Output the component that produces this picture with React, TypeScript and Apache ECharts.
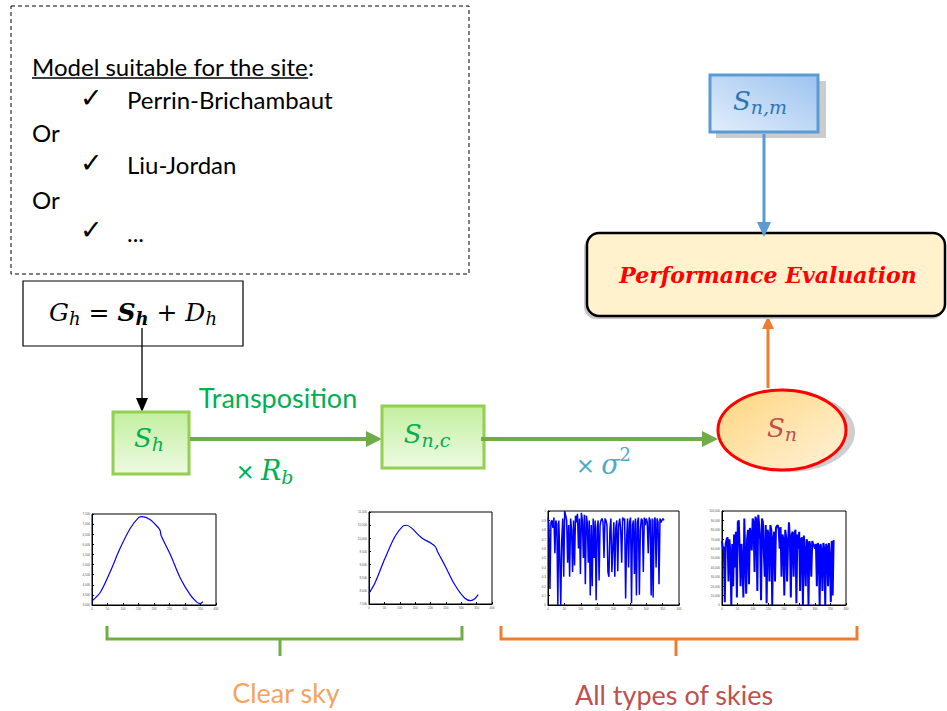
import React, { useEffect, useRef } from "react";
import * as echarts from "echarts";

// ---------- data ----------
const modelTitle = "Model suitable for the site";
const modelItems = ["Perrin-Brichambaut", "Liu-Jordan", "..."];
const orWord = "Or";
const bracketLabels = ["Clear sky", "All types of skies"];

// clear-sky horizontal irradiation (plot 1)
const clearHDays = [0, 27, 59, 91, 124, 151, 161, 188, 215, 220, 223, 253, 285, 317, 339, 349, 358];
const clearHVals = [3200, 3630, 4655, 5813, 6805, 7335, 7370, 7220, 6805, 6673, 6440, 5480, 4325, 3500, 3130, 3070, 3170];
// clear-sky transposed irradiation (plot 2)
const clearTDays = [0, 19, 52, 84, 111, 122, 138, 171, 203, 216, 223, 246, 279, 311, 331, 344, 355];
const clearTVals = [7915, 8293, 9237, 10056, 10471, 10496, 10396, 10018, 9804, 9678, 9490, 8986, 8230, 7727, 7626, 7700, 7853];
// daily clearness index (plot 3), one value every 3 days
const sampleStep = 3;
const clearnessVals = [
  0.93, 0.85, 0.17, 0.88, 0.9, 0.82, 0.93, 0.55, 0.9, 0.86, 0.0, 0.9, 0.5, 0.0, 0.7, 0.92, 0.3, 1.0, 0.95, 0.9,
  0.45, 0.85, 0.3, 0.92, 0.8, 0.35, 0.9, 0.42, 0.95, 0.88, 0.97, 0.6, 0.92, 0.33, 0.98, 0.9, 0.5, 0.96, 0.22, 0.95,
  0.88, 0.45, 0.9, 0.1, 0.85, 0.2, 0.92, 0.5, 0.9, 0.05, 0.82, 0.9, 0.26, 0.85, 0.9, 0.92, 0.88, 0.5, 0.92, 0.9,
  0.85, 0.35, 0.3, 0.8, 0.92, 0.35, 0.6, 0.88, 0.3, 0.82, 0.9, 0.36, 0.85, 0.92, 0.8, 0.45, 0.93, 0.9, 0.92, 0.07,
  0.7, 0.92, 0.4, 0.88, 0.93, 0.02, 0.85, 0.9, 0.33, 0.92, 0.1, 0.88, 0.93, 0.11, 0.8, 0.92, 0.9, 0.35, 0.93, 0.85,
  0.92, 0.88, 0.55, 0.93, 0.9, 0.1, 0.92, 0.08, 0.9, 0.93, 0.4, 0.92, 0.88, 0.22, 0.92, 0.88, 0.9, 0.92, 0.9,
];
// all-sky transposed irradiation (plot 4), one value every 3 days
const allSkyVals = [
  68000, 60000, 62000, 3000, 65000, 70000, 72000, 25000, 70000, 55000, 0, 65000, 20000, 75000, 40000, 78000, 8000,
  88000, 90000, 60000, 20000, 65000, 45000, 8000, 92000, 50000, 12000, 70000, 80000, 22000, 82000, 75000, 58000,
  92000, 88000, 35000, 94000, 90000, 15000, 96000, 85000, 70000, 5000, 92000, 88000, 55000, 30000, 85000, 2000,
  80000, 75000, 25000, 85000, 80000, 0, 70000, 78000, 25000, 82000, 84000, 85000, 80000, 60000, 83000, 30000, 75000,
  70000, 10000, 80000, 72000, 25000, 65000, 88000, 70000, 8000, 75000, 78000, 30000, 76000, 80000, 2000, 75000,
  60000, 78000, 15000, 70000, 72000, 0, 74000, 55000, 20000, 70000, 65000, 0, 68000, 62000, 30000, 68000, 65000,
  63000, 60000, 65000, 20000, 66000, 62000, 0, 65000, 58000, 15000, 66000, 60000, 0, 65000, 62000, 20000, 66000,
  50000, 3000, 68000, 10000, 69000,
];

// axis ranges of the four small plots
const yMins = [3000, 7500, 0, 0];
const yMaxs = [7500, 11000, 1, 100000];
const yIntervals = [500, 500, 0.1, 10000];
const xMin = 0;
const xMax = 400;
const xInterval = 50;

// ---------- helpers ----------
const MATH = '"DejaVu Serif"';
const SANS = "Lato";

let measureCtx: CanvasRenderingContext2D | null = null;
function measure(text: string, font: string) {
  if (!measureCtx) measureCtx = document.createElement("canvas").getContext("2d");
  measureCtx!.font = font;
  return measureCtx!.measureText(text).width;
}

type Part = { t: string; s: number; dy?: number; it?: boolean; b?: boolean; fam?: string };
function partFont(p: Part) {
  return `${p.it ? "italic " : ""}${p.b ? "bold " : ""}${p.s}px ${p.fam || MATH}`;
}
function mathText(cx: number, cy: number, parts: Part[], fill: string) {
  const widths = parts.map((p) => measure(p.t, partFont(p)));
  const total = widths.reduce((a, b) => a + b, 0);
  let x = cx - total / 2;
  return parts.map((p, i) => {
    const el = {
      type: "text",
      x,
      y: cy + (p.dy || 0),
      style: { text: p.t, font: partFont(p), fill, align: "left", verticalAlign: "middle" },
    };
    x += widths[i];
    return el;
  });
}

function arrow(x1: number, y1: number, x2: number, y2: number, color: string, lw: number, hl: number, hw: number) {
  const dx = x2 - x1;
  const dy = y2 - y1;
  const len = Math.sqrt(dx * dx + dy * dy);
  const ux = dx / len;
  const uy = dy / len;
  const bx = x2 - ux * hl;
  const by = y2 - uy * hl;
  const px = -uy * (hw / 2);
  const py = ux * (hw / 2);
  return [
    { type: "line", shape: { x1, y1, x2: bx, y2: by }, style: { stroke: color, lineWidth: lw } },
    {
      type: "polygon",
      shape: { points: [[x2, y2], [bx + px, by + py], [bx - px, by - py]] },
      style: { fill: color },
    },
  ];
}

function text(x: number, y: number, t: string, font: string, fill: string, align = "left") {
  return { type: "text", x, y, style: { text: t, font, fill, align, verticalAlign: "middle" } };
}

export default function App() {
  const ref = useRef<HTMLDivElement>(null);

  useEffect(() => {
    if (!ref.current) return;
    const chart = echarts.init(ref.current, null, { renderer: "svg" });

    const grids = [
      { left: 92, top: 514, width: 124, height: 91 },
      { left: 369, top: 512, width: 123, height: 92 },
      { left: 548, top: 511, width: 131, height: 94 },
      { left: 722, top: 511, width: 124, height: 94 },
    ];

    const greenFill = new echarts.graphic.LinearGradient(0, 0, 0, 1, [
      { offset: 0, color: "#c3efa0" },
      { offset: 1, color: "#eefae3" },
    ]);
    const greenFill2 = new echarts.graphic.LinearGradient(0, 0, 0, 1, [
      { offset: 0, color: "#c3efa0" },
      { offset: 1, color: "#eefae3" },
    ]);
    const blueFill = new echarts.graphic.LinearGradient(0, 1, 1, 0, [
      { offset: 0, color: "#e3eefc" },
      { offset: 1, color: "#9cc3ef" },
    ]);
    const ellFill = new echarts.graphic.LinearGradient(0, 0, 1, 1, [
      { offset: 0, color: "#ffd57f" },
      { offset: 1, color: "#fff3da" },
    ]);

    const elements: any[] = [];
    const bodyFont = `24px ${SANS}`;

    // dashed model box
    elements.push({
      type: "rect",
      shape: { x: 11, y: 6, width: 458, height: 268 },
      style: { fill: "none", stroke: "#000", lineWidth: 1, lineDash: [4, 3] },
    });
    elements.push(text(32, 66, modelTitle, bodyFont, "#000"));
    const titleW = measure(modelTitle, bodyFont);
    elements.push({
      type: "line",
      shape: { x1: 32, y1: 78, x2: 32 + titleW, y2: 78 },
      style: { stroke: "#000", lineWidth: 1.4 },
    });
    elements.push(text(32 + titleW, 66, ":", bodyFont, "#000"));
    const itemYs = [99, 164, 232];
    const checkYs = [97, 162, 229];
    modelItems.forEach((it, i) => {
      elements.push(text(80, checkYs[i], "✓", `27px "DejaVu Sans"`, "#000"));
      elements.push(text(127, itemYs[i], it, bodyFont, "#000"));
    });
    elements.push(text(32, 132, orWord, bodyFont, "#000"));
    elements.push(text(32, 199, orWord, bodyFont, "#000"));

    // G_h box
    elements.push({
      type: "rect",
      shape: { x: 23, y: 281, width: 220, height: 65 },
      style: { fill: "#fff", stroke: "#000", lineWidth: 1.2 },
    });
    elements.push(
      ...mathText(
        133,
        312,
        [
          { t: "G", s: 25, it: true },
          { t: "h", s: 18, it: true, dy: 6 },
          { t: " = ", s: 25 },
          { t: "S", s: 25, it: true, b: true },
          { t: "h", s: 18, it: true, b: true, dy: 6 },
          { t: " + ", s: 25 },
          { t: "D", s: 25, it: true },
          { t: "h", s: 18, it: true, dy: 6 },
        ],
        "#000"
      )
    );
    elements.push(...arrow(142, 328, 142, 412, "#000", 1.3, 14, 12));

    // S_h box
    elements.push({
      type: "rect",
      shape: { x: 113, y: 412, width: 76, height: 62 },
      style: { fill: greenFill, stroke: "#92d050", lineWidth: 3 },
    });
    elements.push(
      ...mathText(149, 438, [
        { t: "S", s: 26, it: true },
        { t: "h", s: 19, it: true, dy: 6 },
      ], "#00b050")
    );

    // transposition arrow
    elements.push(...arrow(190, 439, 382, 439, "#70ad47", 4, 16, 16));
    elements.push(text(278, 397, "Transposition", `27px ${SANS}`, "#00b050", "center"));
    elements.push(
      ...mathText(265, 470, [
        { t: "× ", s: 29, fam: SANS },
        { t: "R", s: 27, it: true },
        { t: "b", s: 19, it: true, dy: 7 },
      ], "#00b050")
    );

    // S_n,c box
    elements.push({
      type: "rect",
      shape: { x: 382, y: 406, width: 102, height: 62 },
      style: { fill: greenFill2, stroke: "#92d050", lineWidth: 3 },
    });
    elements.push(
      ...mathText(427, 434, [
        { t: "S", s: 26, it: true },
        { t: "n,c", s: 19, it: true, dy: 6 },
      ], "#00b050")
    );

    // sigma arrow
    elements.push(...arrow(481, 439, 718, 439, "#70ad47", 4, 16, 16));
    elements.push(
      ...mathText(604, 464, [
        { t: "× ", s: 29, fam: SANS },
        { t: "σ", s: 27, it: true },
        { t: "2", s: 18, dy: -10 },
      ], "#4bacc6")
    );

    // S_n ellipse with shadow
    elements.push({
      type: "ellipse",
      shape: { cx: 789, cy: 432, rx: 66, ry: 40 },
      style: { fill: "#cfcfcf" },
    });
    elements.push({
      type: "ellipse",
      shape: { cx: 782, cy: 430, rx: 64, ry: 40 },
      style: { fill: ellFill, stroke: "#ff0000", lineWidth: 3 },
    });
    elements.push(
      ...mathText(782, 428, [
        { t: "S", s: 26, it: true },
        { t: "n", s: 19, it: true, dy: 6 },
      ], "#c0504d")
    );

    // orange arrow up
    elements.push(...arrow(768, 388, 768, 316, "#ed7d31", 3, 13, 12));

    // performance evaluation box
    elements.push({
      type: "rect",
      shape: { x: 584, y: 236, width: 360, height: 83, r: 12 },
      style: { fill: "#c8c8c8" },
    });
    elements.push({
      type: "rect",
      shape: { x: 587, y: 233, width: 358, height: 83, r: 12 },
      style: { fill: "#fff2cc", stroke: "#000", lineWidth: 2.5 },
    });
    elements.push(
      text(768, 275, "Performance Evaluation", `italic bold 22px ${MATH}`, "#ff0000", "center")
    );

    // S_n,m box with shadow
    elements.push({
      type: "rect",
      shape: { x: 716, y: 81, width: 110, height: 57 },
      style: { fill: "#cccccc" },
    });
    elements.push({
      type: "rect",
      shape: { x: 710, y: 75, width: 108, height: 57 },
      style: { fill: blueFill, stroke: "#5b9bd5", lineWidth: 3 },
    });
    elements.push(
      ...mathText(760, 101, [
        { t: "S", s: 26, it: true },
        { t: "n,m", s: 19, it: true, dy: 6 },
      ], "#2e75b6")
    );
    elements.push(...arrow(764, 134, 764, 237, "#5b9bd5", 3, 15, 14));

    // brackets
    const bracket = (x1: number, x2: number, xm: number, color: string) => [
      {
        type: "polyline",
        shape: { points: [[x1, 626], [x1, 639], [x2, 639], [x2, 626]] },
        style: { stroke: color, lineWidth: 3, fill: "none" },
      },
      { type: "line", shape: { x1: xm, y1: 639, x2: xm, y2: 656 }, style: { stroke: color, lineWidth: 3 } },
    ];
    elements.push(...bracket(107, 462, 280, "#70ad47"));
    elements.push(...bracket(501, 857, 676, "#ed7d31"));
    elements.push(text(286, 692, bracketLabels[0], `27px ${SANS}`, "#f4a460", "center"));
    elements.push(text(674, 694, bracketLabels[1], `27px ${SANS}`, "#c0504d", "center"));

    const seriesData = [
      clearHDays.map((d, i) => [d, clearHVals[i]]),
      clearTDays.map((d, i) => [d, clearTVals[i]]),
      clearnessVals.map((v, i) => [i * sampleStep, v]),
      allSkyVals.map((v, i) => [i * sampleStep, v]),
    ];

    const option: any = {
      animation: false,
      grid: grids.map((g) => ({ ...g, show: true, borderColor: "#000", borderWidth: 1, backgroundColor: "#fff" })),
      xAxis: grids.map((_, i) => ({
        type: "value",
        gridIndex: i,
        min: xMin,
        max: xMax,
        interval: xInterval,
        axisLine: { show: true, lineStyle: { color: "#000", width: 1 } },
        axisTick: { show: true, inside: true, length: 2, lineStyle: { color: "#000" } },
        axisLabel: { fontSize: 3, color: "#555", margin: 2 },
        splitLine: { show: false },
      })),
      yAxis: grids.map((_, i) => ({
        type: "value",
        gridIndex: i,
        min: yMins[i],
        max: yMaxs[i],
        interval: yIntervals[i],
        axisLine: { show: true, lineStyle: { color: "#000", width: 1 } },
        axisTick: { show: true, inside: true, length: 2, lineStyle: { color: "#000" } },
        axisLabel: { fontSize: 3, color: "#555", margin: 2 },
        splitLine: { show: false },
      })),
      series: seriesData.map((d, i) => ({
        type: "line",
        xAxisIndex: i,
        yAxisIndex: i,
        data: d,
        showSymbol: false,
        smooth: i < 2 ? 0.3 : false,
        lineStyle: { color: "#0000ff", width: i === 3 ? 2 : i === 2 ? 1.5 : 1.2 },
      })),
      graphic: { elements },
    };

    chart.setOption(option);
    return () => chart.dispose();
  }, []);

  return (
    <div
      ref={ref}
      style={{ position: "absolute", left: 0, top: 0, width: 947, height: 711, background: "#fff" }}
    />
  );
}
